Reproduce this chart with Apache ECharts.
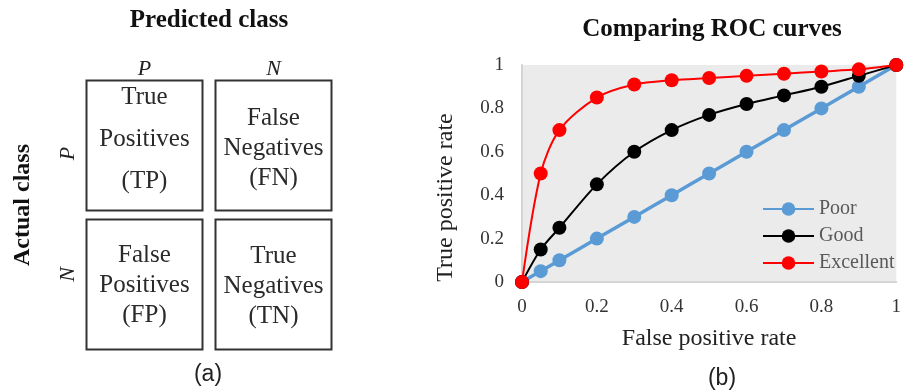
<!DOCTYPE html>
<html>
<head>
<meta charset="utf-8">
<script src="https://cdn.jsdelivr.net/npm/echarts@6/dist/echarts.min.js"></script>
<style>
html,body{margin:0;padding:0;background:#fff;}
#chart{width:904px;height:392px;}
</style>
</head>
<body>
<div id="chart"></div>
<script>
// ---- Data ----
const matrixCols = ['P', 'N'];
const matrixRows = ['P', 'N'];
const matrixCells = [
  [0, 0, 'True\nPositives\n(TP)'],
  [1, 0, 'False\nNegatives\n(FN)'],
  [0, 1, 'False\nPositives\n(FP)'],
  [1, 1, 'True\nNegatives\n(TN)']
];
const fpr = [0, 0.05, 0.1, 0.2, 0.3, 0.4, 0.5, 0.6, 0.7, 0.8, 0.9, 1];
const tprPoor = [0, 0.05, 0.1, 0.2, 0.3, 0.4, 0.5, 0.6, 0.7, 0.8, 0.9, 1];
const tprGood = [0, 0.15, 0.25, 0.45, 0.6, 0.7, 0.77, 0.82, 0.86, 0.9, 0.95, 1];
const tprExcellent = [0, 0.5, 0.7, 0.85, 0.91, 0.93, 0.94, 0.95, 0.96, 0.97, 0.98, 1];
const seriesNames = ['Poor', 'Good', 'Excellent'];
const xTicks = [0, 0.2, 0.4, 0.6, 0.8, 1];

// ---- Styling ----
const serif = '"Liberation Serif", "Times New Roman", serif';
const rowLabelPad = [[0, 16, 0, 0], [0, 0, 0, 20]];
const cellTextShift = [-6, 3, 1, 2];
const zip = (xs, ys) => xs.map((x, i) => [x, ys[i]]);

const chart = echarts.init(document.getElementById('chart'));
chart.setOption({
  animation: false,
  textStyle: { fontFamily: serif },
  title: [
    { text: 'Comparing ROC curves', left: 707, top: 12, textAlign: 'center',
      textStyle: { fontFamily: serif, fontWeight: 'bold', fontSize: 25, color: '#111' } },
    { text: '(a)', left: 203, top: 358, textAlign: 'center',
      textStyle: { fontFamily: '"Liberation Sans", Arial, sans-serif', fontWeight: 'normal', fontSize: 23, color: '#222' } },
    { text: '(b)', left: 717, top: 362, textAlign: 'center',
      textStyle: { fontFamily: '"Liberation Sans", Arial, sans-serif', fontWeight: 'normal', fontSize: 23, color: '#222' } }
  ],
  legend: {
    data: seriesNames,
    orient: 'vertical',
    left: 762, top: 199, padding: 0,
    itemWidth: 51, itemHeight: 17, itemGap: 7,
    textStyle: { fontFamily: serif, fontSize: 20, color: '#595959' }
  },
  grid: [
    { left: 80, top: 76, width: 258, height: 278 },
    { left: 522, right: 2, top: 65, bottom: 110, show: true, backgroundColor: '#EBEBEB', borderWidth: 0 }
  ],
  xAxis: [
    { gridIndex: 0, type: 'category', data: matrixCols, position: 'top',
      axisLine: { show: false }, axisTick: { show: false }, splitLine: { show: false },
      axisLabel: { fontFamily: serif, fontStyle: 'italic', fontSize: 22, color: '#222', margin: -4 },
      name: 'Predicted class', nameLocation: 'middle', nameGap: 43,
      nameTextStyle: { fontFamily: serif, fontWeight: 'bold', fontSize: 25, color: '#111' } },
    { gridIndex: 1, type: 'value', min: 0, max: 1, interval: 0.2,
      axisLine: { show: true, lineStyle: { color: '#D4D4D4', width: 2 } },
      axisTick: { show: false }, splitLine: { show: false },
      axisLabel: { fontFamily: serif, fontSize: 19, color: '#333', margin: 16,
        formatter: v => xTicks.includes(+v.toFixed(1)) ? String(+v.toFixed(1)) : '' },
      name: 'False positive rate', nameLocation: 'middle', nameGap: 45,
      nameTextStyle: { fontFamily: serif, fontSize: 24, color: '#222' } }
  ],
  yAxis: [
    { gridIndex: 0, type: 'category', inverse: true,
      data: matrixRows.map((r, i) => ({ value: r, textStyle: { padding: rowLabelPad[i] } })),
      axisLine: { show: false }, axisTick: { show: false }, splitLine: { show: false },
      axisLabel: { fontFamily: serif, fontStyle: 'italic', fontSize: 22, color: '#222', rotate: 90, margin: 1 },
      name: 'Actual class', nameLocation: 'middle', nameGap: 45,
      nameTextStyle: { fontFamily: serif, fontWeight: 'bold', fontSize: 24, color: '#111', padding: [0, 0, 0, 20] } },
    { gridIndex: 1, type: 'value', min: 0, max: 1, interval: 0.2,
      axisLine: { show: true, lineStyle: { color: '#D4D4D4', width: 2 } },
      axisTick: { show: false }, splitLine: { show: false },
      axisLabel: { fontFamily: serif, fontSize: 19, color: '#333', margin: 18,
        formatter: v => String(+v.toFixed(1)) },
      name: 'True positive rate', nameLocation: 'middle', nameGap: 64,
      nameTextStyle: { fontFamily: serif, fontSize: 24, color: '#222', padding: [0, 48, 0, 0] } }
  ],
  series: [
    {
      type: 'custom', xAxisIndex: 0, yAxisIndex: 0, silent: true,
      data: matrixCells,
      renderItem: function (params, api) {
        const c = api.coord([api.value(0), api.value(1)]);
        const s = api.size([1, 1]);
        const w = s[0] - 13, h = s[1] - 9;
        const isTP = params.dataIndex === 0;
        return {
          type: 'group',
          children: [
            { type: 'rect', shape: { x: c[0] - w / 2, y: c[1] - h / 2, width: w, height: h },
              style: { fill: '#fff', stroke: '#333', lineWidth: 2 } },
            { type: 'text', x: c[0], y: c[1] + cellTextShift[params.dataIndex],
              style: { text: matrixCells[params.dataIndex][2], align: 'center', verticalAlign: 'middle',
                font: '25px ' + serif, fill: '#2a2a2a', lineHeight: isTP ? 42 : 30 } }
          ]
        };
      }
    },
    { name: 'Poor', type: 'line', xAxisIndex: 1, yAxisIndex: 1, data: zip(fpr, tprPoor),
      smooth: 0.3, clip: false, symbol: 'circle', symbolSize: 14,
      lineStyle: { color: '#5B9BD5', width: 3.5 }, itemStyle: { color: '#5B9BD5' } },
    { name: 'Good', type: 'line', xAxisIndex: 1, yAxisIndex: 1, data: zip(fpr, tprGood),
      smooth: 0.3, clip: false, symbol: 'circle', symbolSize: 14,
      lineStyle: { color: '#000', width: 2 }, itemStyle: { color: '#000' } },
    { name: 'Excellent', type: 'line', xAxisIndex: 1, yAxisIndex: 1, data: zip(fpr, tprExcellent),
      smooth: 0.3, clip: false, symbol: 'circle', symbolSize: 14,
      lineStyle: { color: '#FF0000', width: 2 }, itemStyle: { color: '#FF0000' } }
  ]
});
</script>
</body>
</html>
